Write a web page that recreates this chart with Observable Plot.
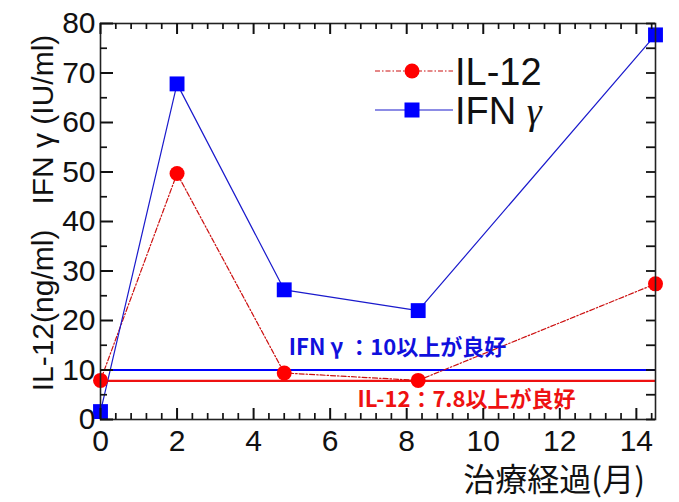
<!DOCTYPE html>
<html>
<head>
<meta charset="utf-8">
<script src="https://cdn.jsdelivr.net/npm/d3@7"></script>
<script src="https://cdn.jsdelivr.net/npm/@observablehq/plot@0.6"></script>
<style>
  html, body { margin: 0; padding: 0; background: #fff; }
  #chart { width: 679px; height: 502px; }
</style>
</head>
<body>
<div id="chart"></div>
<script>
// ---- data ----
const months = [0, 2, 4.8, 8.3, 14.5];
const il12 = [7.9, 49.7, 9.4, 7.9, 27.4];
const ifng = [1.6, 67.8, 26.2, 22.0, 77.7];
const seriesNames = ["IL-12", "IFN "];
const il12Threshold = [7.8];
const ifngThreshold = [10];
const il12Note = ["IL-12：7.8以上が良好"];
const ifngNote = ["IFN γ ：10以上が良好"];
const xTicks = [0, 2, 4, 6, 8, 10, 12, 14];
const yTicks = [0, 10, 20, 30, 40, 50, 60, 70, 80];
const yTitle = "IL-12(ng/ml)   IFN γ (IU/ml)";
const xTitle = "治療経過(月)";

const il12Data = months.map((m, i) => ({month: m, value: il12[i]}));
const ifngData = months.map((m, i) => ({month: m, value: ifng[i]}));

const W = 679, H = 502;
const mL = 100, mR = 24, mT = 23, mB = 83;
const plotH = H - mT - mB;
const plotW = W - mL - mR;

const RED = "#ff0000", DARKRED = "#cc1010", BLUE = "#0000ff", LINEBLUE = "#1a1acc";
const sans = "'Liberation Sans', Arial, sans-serif";
const jp = "'Noto Sans CJK JP', 'Liberation Sans', sans-serif";

const xMinor = d3.range(0, 37).map(i => i * 0.4).filter((d, i) => i % 5 !== 0);
const yAll = d3.range(0, 17).map(i => i * 5);
const yMinor = yAll.filter(d => d % 10 !== 0);
const TK = "#111";

const chart = Plot.plot({
  width: W, height: H,
  marginLeft: mL, marginRight: mR, marginTop: mT, marginBottom: mB,
  style: {fontFamily: sans, background: "#fff", color: "#111"},
  x: {domain: [0, 14.5]},
  y: {domain: [0, 80]},
  marks: [
    Plot.ruleY(ifngThreshold, {stroke: BLUE, strokeWidth: 2}),
    Plot.ruleY(il12Threshold, {stroke: "#ee1111", strokeWidth: 2.2}),
    Plot.line(il12Data, {x: "month", y: "value", stroke: DARKRED, strokeWidth: 1.2, strokeDasharray: "5,2,1.5,2"}),
    Plot.line(ifngData, {x: "month", y: "value", stroke: LINEBLUE, strokeWidth: 1.2}),
    Plot.dot(il12Data, {x: "month", y: "value", r: 7.5, fill: RED, stroke: "none", symbol: "circle"}),
    Plot.dot(ifngData, {x: "month", y: "value", r: 8.4, fill: BLUE, stroke: "none", symbol: "square"}),
    Plot.text(ifngNote, {y: ifngThreshold, text: d => d, frameAnchor: "left", dx: 297, dy: -22, textAnchor: "middle",
      fill: "#1010dd", fontSize: 22, fontWeight: "bold", fontFamily: jp}),
    Plot.text(il12Note, {y: il12Threshold, text: d => d, frameAnchor: "left", dx: 366, dy: 19, textAnchor: "middle",
      fill: "#ee1111", fontSize: 22, fontWeight: "bold", fontFamily: jp}),
    Plot.frame({stroke: "#222", strokeWidth: 1.6}),
    // inward ticks (bottom, top, left, right)
    Plot.tickX(xTicks, {x: d => d, insetTop: plotH - 11, stroke: TK, strokeWidth: 2}),
    Plot.tickX(xMinor, {x: d => d, insetTop: plotH - 6, stroke: TK, strokeWidth: 1.7}),
    Plot.tickX(xTicks, {x: d => d, insetBottom: plotH - 11, stroke: TK, strokeWidth: 2}),
    Plot.tickX(xMinor, {x: d => d, insetBottom: plotH - 6, stroke: TK, strokeWidth: 1.7}),
    Plot.tickY(yTicks, {y: d => d, insetRight: plotW - 13, stroke: TK, strokeWidth: 2}),
    Plot.tickY(yMinor, {y: d => d, insetRight: plotW - 7, stroke: TK, strokeWidth: 1.7}),
    Plot.tickY(yAll, {y: d => d, insetLeft: plotW - 9, stroke: TK, strokeWidth: 1.8}),
    Plot.axisX(xTicks, {tickSize: 0, tickPadding: 10, fontSize: 30, label: null, fill: "#111"}),
    Plot.axisY(yTicks, {tickSize: 0, tickPadding: 5, fontSize: 30, label: null, fill: "#111"})
  ]
});

document.getElementById("chart").appendChild(chart);

const svg = d3.select(chart);

svg.append("text")
  .attr("transform", `translate(53, ${mT + 190}) rotate(-90)`)
  .attr("text-anchor", "middle")
  .attr("font-family", sans)
  .attr("font-size", 30)
  .attr("fill", "#111")
  .style("white-space", "pre")
  .text(yTitle);

svg.append("text")
  .attr("x", 645).attr("y", 491)
  .attr("text-anchor", "end")
  .attr("font-family", jp)
  .attr("font-size", 32)
  .attr("fill", "#111")
  .text(xTitle);

const lg = svg.append("g");
const rows = [
  {name: seriesNames[0], greek: null, y: 71, stroke: DARKRED, dash: "5,2,1.5,2", fill: RED, sym: "circle"},
  {name: seriesNames[1], greek: "γ", y: 110, stroke: LINEBLUE, dash: null, fill: BLUE, sym: "square"}
];
rows.forEach(r => {
  lg.append("line").attr("x1", 375).attr("x2", 453).attr("y1", r.y).attr("y2", r.y)
    .attr("stroke", r.stroke).attr("stroke-width", 1.2).attr("stroke-dasharray", r.dash);
  if (r.sym === "circle") {
    lg.append("circle").attr("cx", 412).attr("cy", r.y).attr("r", 7.5).attr("fill", r.fill);
  } else {
    lg.append("rect").attr("x", 412 - 7.5).attr("y", r.y - 7.5).attr("width", 15).attr("height", 15).attr("fill", r.fill);
  }
  const t = lg.append("text").attr("x", 455).attr("y", r.y + 14)
    .attr("text-anchor", "start")
    .attr("font-family", sans).attr("font-size", 38).attr("fill", "#111")
    .style("white-space", "pre")
    .text(r.name);
  if (r.greek) t.append("tspan").attr("font-family", "'Liberation Serif', serif").attr("font-style", "italic").text(r.greek);
});
</script>
</body>
</html>
